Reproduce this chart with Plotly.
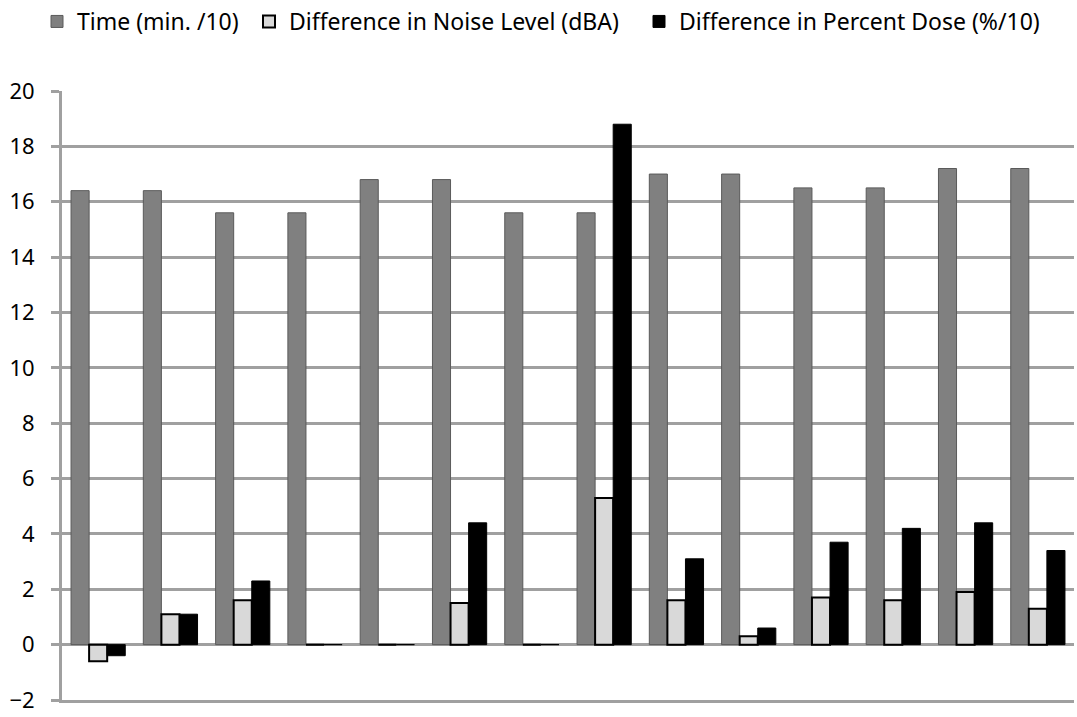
import plotly.graph_objects as go

categories = [str(i) for i in range(1, 15)]
time_min10 = [16.4, 16.4, 15.6, 15.6, 16.8, 16.8, 15.6, 15.6, 17.0, 17.0, 16.5, 16.5, 17.2, 17.2]
noise_dba = [-0.6, 1.1, 1.6, 0.0, 0.0, 1.5, 0.0, 5.3, 1.6, 0.3, 1.7, 1.6, 1.9, 1.3]
dose_pct10 = [-0.4, 1.1, 2.3, 0.0, 0.0, 4.4, 0.0, 18.8, 3.1, 0.6, 3.7, 4.2, 4.4, 3.4]
y_ticks = [-2, 0, 2, 4, 6, 8, 10, 12, 14, 16, 18, 20]

W, H = 1077, 717
FONT = "Noto Sans"
GRID = "#a0a0a0"

fig = go.Figure()
fig.add_trace(go.Bar(x=categories, y=time_min10, name="Time (min. /10)",
                     marker=dict(color="#808080", line=dict(color="#5a5a5a", width=1)),
                     legend="legend"))
fig.add_trace(go.Bar(x=categories, y=noise_dba, name="Difference in Noise Level (dBA)",
                     marker=dict(color="#d9d9d9", line=dict(color="#000000", width=2)),
                     legend="legend2"))
fig.add_trace(go.Bar(x=categories, y=dose_pct10, name="Difference in Percent Dose (%/10)",
                     marker=dict(color="#000000", line=dict(color="#000000", width=1)),
                     legend="legend3"))

def leg(xpx):
    return dict(x=xpx / W, y=1.0, xref="container", yref="container",
                xanchor="left", yanchor="top", orientation="h",
                font=dict(family=FONT, size=23, color="#000"),
                bgcolor="rgba(0,0,0,0)", borderwidth=0)

fig.update_layout(
    width=W, height=H,
    margin=dict(l=62, r=3, t=91, b=14),
    paper_bgcolor="white", plot_bgcolor="white",
    barmode="group", bargap=0.25, bargroupgap=0,
    showlegend=True,
    legend=leg(37), legend2=leg(249), legend3=leg(639),
    font=dict(family=FONT, color="#000"),
    xaxis=dict(showticklabels=False, showgrid=False, ticks="", showline=True,
               linecolor=GRID, linewidth=3, zeroline=False),
    yaxis=dict(range=[-2, 20], tickvals=y_ticks, showgrid=True, gridcolor=GRID,
               gridwidth=3, zeroline=True, zerolinecolor=GRID, zerolinewidth=3,
               showline=True, linecolor=GRID, linewidth=3, ticks="outside",
               ticklen=8, tickwidth=3, tickcolor=GRID, ticklabelstandoff=12,
               tickfont=dict(family=FONT, size=22, color="#000")),
)

fig.write_html("out.html")
